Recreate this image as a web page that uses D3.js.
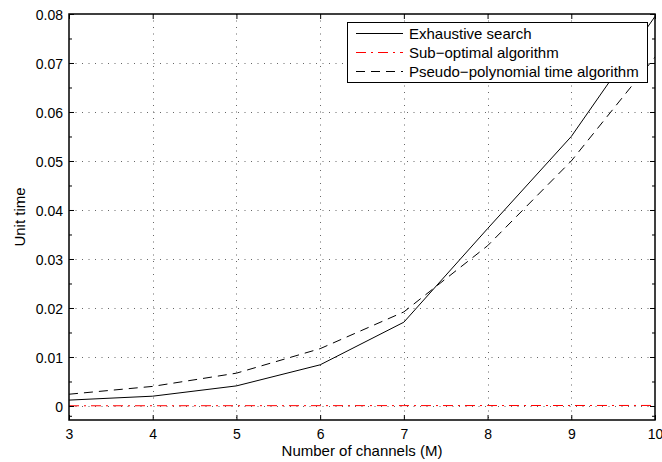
<!DOCTYPE html>
<html>
<head>
<meta charset="utf-8">
<script src="https://cdn.jsdelivr.net/npm/d3@7"></script>
<style>
  html, body { margin: 0; padding: 0; background: #fff; }
  svg { display: block; }
  text { font-family: "Liberation Sans", Arial, sans-serif; fill: #000; }
</style>
</head>
<body>
<svg id="chart" width="662" height="462"></svg>
<script>
// ---- data ----
const channels = [3, 4, 5, 6, 7, 8, 9, 10];
const exhaustive = [0.0012, 0.0020, 0.0041, 0.0084, 0.0171, 0.0362, 0.0550, 0.0795];
const subOptimal = [0.00004, 0.00005, 0.00006, 0.00007, 0.00008, 0.00009, 0.0001, 0.00011];
const pseudoPoly = [0.0024, 0.0040, 0.0067, 0.0117, 0.0192, 0.0327, 0.0500, 0.0712];
const xTicks = [3, 4, 5, 6, 7, 8, 9, 10];
const yTicks = [0, 0.01, 0.02, 0.03, 0.04, 0.05, 0.06, 0.07, 0.08];
const yMinorTicks = [-0.002, 0.005, 0.015, 0.025, 0.035, 0.045, 0.055, 0.065, 0.075];
const seriesNames = ["Exhaustive search", "Sub\u2212optimal algorithm", "Pseudo\u2212polynomial time algorithm"];
const xLabel = "Number of channels (M)";
const yLabel = "Unit time";

// ---- layout ----
const L = 69, R = 655, T = 14, B = 420;
const svg = d3.select("#chart");
const x = d3.scaleLinear().domain([3, 10]).range([L, R]);
const y = d3.scaleLinear().domain([-0.00286, 0.08]).range([B, T]);

svg.append("defs").append("clipPath").attr("id", "plotclip")
  .append("rect").attr("x", L).attr("y", T).attr("width", R - L).attr("height", B - T);

// grid
const grid = svg.append("g").attr("stroke", "#666").attr("stroke-width", 1).attr("stroke-dasharray", "1,5.5");
grid.selectAll(".gx").data(xTicks.filter(d => d > 3 && d < 10)).join("line")
  .attr("x1", d => Math.round(x(d)) + 0.5).attr("x2", d => Math.round(x(d)) + 0.5)
  .attr("y1", T).attr("y2", B);
grid.selectAll(".gy").data(yTicks.filter(d => d < 0.08)).join("line")
  .attr("x1", L).attr("x2", R)
  .attr("y1", d => Math.round(y(d)) + 0.5).attr("y2", d => Math.round(y(d)) + 0.5);

// series
const line = d3.line().x((d, i) => x(channels[i])).y(d => y(d));
const plot = svg.append("g").attr("clip-path", "url(#plotclip)").attr("fill", "none");
const styles = [
  { data: exhaustive, color: "#000", dash: null },
  { data: subOptimal, color: "#ff0000", dash: "10,5,2,5" },
  { data: pseudoPoly, color: "#000", dash: "9,6" }
];
styles.forEach(s => {
  plot.append("path").attr("d", line(s.data))
    .attr("stroke", s.color).attr("stroke-width", 1)
    .attr("stroke-dasharray", s.dash);
});

// axes (box with inward ticks)
const axG = svg.append("g");
const bottomAxis = d3.axisBottom(x).tickValues(xTicks).tickSizeInner(-5).tickSizeOuter(0).tickFormat(d3.format("d"));
const topAxis = d3.axisTop(x).tickValues(xTicks).tickSizeInner(-5).tickSizeOuter(0).tickFormat("");
const leftAxis = d3.axisLeft(y).tickValues(yTicks).tickSizeInner(-5).tickSizeOuter(0)
  .tickFormat(d => d === 0 ? "0" : d3.format(".2f")(d));
const rightAxis = d3.axisRight(y).tickValues(yTicks).tickSizeInner(-5).tickSizeOuter(0).tickFormat("");
const leftMinor = d3.axisLeft(y).tickValues(yMinorTicks).tickSizeInner(-3).tickSizeOuter(0).tickFormat("");
const rightMinor = d3.axisRight(y).tickValues(yMinorTicks).tickSizeInner(-3).tickSizeOuter(0).tickFormat("");

function styleAxis(g) {
  g.select(".domain").remove();
  g.selectAll(".tick line").attr("stroke", "#000").attr("stroke-width", 1);
  g.selectAll(".tick text").attr("font-family", "Liberation Sans, Arial, sans-serif").attr("font-size", 14).attr("fill", "#000");
}
const gb = axG.append("g").attr("transform", `translate(0,${B})`).call(bottomAxis).call(styleAxis);
gb.selectAll(".tick text").attr("y", 19).attr("dy", null);
axG.append("g").attr("transform", `translate(0,${T})`).call(topAxis).call(styleAxis);
const gl = axG.append("g").attr("transform", `translate(${L},0)`).call(leftAxis).call(styleAxis);
gl.selectAll(".tick text").attr("x", -6).attr("dy", "0.36em");
axG.append("g").attr("transform", `translate(${R},0)`).call(rightAxis).call(styleAxis);
axG.append("g").attr("transform", `translate(${L},0)`).call(leftMinor).call(styleAxis);
axG.append("g").attr("transform", `translate(${R},0)`).call(rightMinor).call(styleAxis);

svg.append("rect").attr("x", L).attr("y", T).attr("width", R - L).attr("height", B - T)
  .attr("fill", "none").attr("stroke", "#000").attr("stroke-width", 1.5);

// axis titles
svg.append("text").attr("x", (L + R) / 2).attr("y", 456).attr("text-anchor", "middle")
  .attr("font-size", 15).text(xLabel);
svg.append("text").attr("transform", `translate(25,${(T + B) / 2}) rotate(-90)`)
  .attr("text-anchor", "middle").attr("font-family", "DejaVu Sans, sans-serif").attr("font-size", 15).text(yLabel);

// legend
const lg = svg.append("g");
lg.append("rect").attr("x", 347.5).attr("y", 22.5).attr("width", 300).attr("height", 60)
  .attr("fill", "#fff").attr("stroke", "#000").attr("stroke-width", 1);
const rowY = [33.5, 52.5, 71.5];
styles.forEach((s, i) => {
  lg.append("line").attr("x1", 356).attr("x2", 403).attr("y1", rowY[i]).attr("y2", rowY[i])
    .attr("stroke", s.color).attr("stroke-width", 1).attr("stroke-dasharray", s.dash);
  lg.append("text").attr("x", 409).attr("y", rowY[i] + 5).attr("font-size", 15).text(seriesNames[i]);
});
</script>
</body>
</html>
